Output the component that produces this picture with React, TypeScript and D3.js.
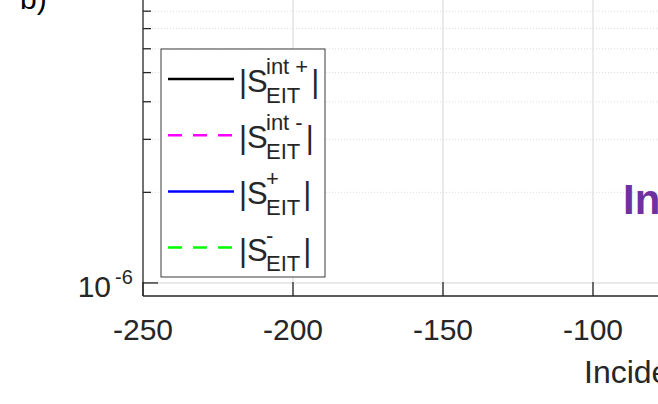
import { useEffect, useRef } from 'react'
import * as d3 from 'd3'

// axis limits and ticks
const xLimits = [-250, 0]
const xTicks = [-250, -200, -150, -100, -50, 0]
const yLimits = [9.05e-7, 1e-5]
const yMajorTicks = [1e-6, 1e-5]
const yMinorTicks = [2e-6, 3e-6, 4e-6, 5e-6, 6e-6, 7e-6, 8e-6, 9e-6]

// legend entries
const seriesSup = ['int +', 'int -', '+', '-']
const seriesColors = ['#000000', '#ff00ff', '#0000ff', '#00ff00']
const seriesDashed = [false, true, false, true]

const xLabel = 'Incident angle (deg)'
const annotation = 'In'
const panelLabel = 'b)'

const FONT = '"Liberation Sans", Arial, Helvetica, sans-serif'
const AXIS = '#262626'

function App() {
  const svgRef = useRef<SVGSVGElement>(null)

  useEffect(() => {
    if (!svgRef.current) return
    const width = 658
    const height = 404
    const left = 143
    const bottom = 296

    const svg = d3.select(svgRef.current)
    svg.selectAll('*').remove()
    svg.attr('width', width).attr('height', height)

    const x = d3.scaleLinear().domain(xLimits).range([left, left + 750])
    const y = d3.scaleLog().domain(yLimits).range([bottom, -18])
    const right = x(xLimits[1])
    const top = y(yLimits[1])

    // grid
    const grid = svg.append('g')
    grid
      .selectAll('.vgrid')
      .data(xTicks.filter((t) => t > xLimits[0]))
      .enter()
      .append('line')
      .attr('x1', (d) => x(d))
      .attr('x2', (d) => x(d))
      .attr('y1', top)
      .attr('y2', bottom)
      .attr('stroke', '#e3e3e3')
      .attr('stroke-width', 1.5)
    grid
      .selectAll('.hminor')
      .data(yMinorTicks)
      .enter()
      .append('line')
      .attr('x1', left)
      .attr('x2', right)
      .attr('y1', (d) => y(d))
      .attr('y2', (d) => y(d))
      .attr('stroke', '#dcdcdc')
      .attr('stroke-width', 1)
      .attr('stroke-dasharray', '1,2')
    grid
      .selectAll('.hmajor')
      .data(yMajorTicks)
      .enter()
      .append('line')
      .attr('x1', left)
      .attr('x2', right)
      .attr('y1', (d) => y(d))
      .attr('y2', (d) => y(d))
      .attr('stroke', '#e3e3e3')
      .attr('stroke-width', 1.5)

    // axes lines
    svg.append('line')
      .attr('x1', left).attr('x2', left).attr('y1', top).attr('y2', bottom)
      .attr('stroke', AXIS).attr('stroke-width', 1.3)
    svg.append('line')
      .attr('x1', left).attr('x2', right).attr('y1', bottom).attr('y2', bottom)
      .attr('stroke', AXIS).attr('stroke-width', 1.3)

    // x ticks (inward) and labels
    svg
      .selectAll('.xtick')
      .data(xTicks)
      .enter()
      .append('line')
      .attr('x1', (d) => x(d))
      .attr('x2', (d) => x(d))
      .attr('y1', bottom)
      .attr('y2', bottom - 14)
      .attr('stroke', AXIS)
      .attr('stroke-width', 1.3)
    svg
      .selectAll('.xlabel')
      .data(xTicks)
      .enter()
      .append('text')
      .attr('x', (d) => x(d))
      .attr('y', 340)
      .attr('text-anchor', 'middle')
      .attr('font-family', FONT)
      .attr('font-size', 30)
      .attr('fill', AXIS)
      .text((d) => String(d))

    // y ticks
    svg
      .selectAll('.ymajor')
      .data(yMajorTicks)
      .enter()
      .append('line')
      .attr('x1', left)
      .attr('x2', left + 15)
      .attr('y1', (d) => y(d))
      .attr('y2', (d) => y(d))
      .attr('stroke', AXIS)
      .attr('stroke-width', 1.3)
    svg
      .selectAll('.yminor')
      .data(yMinorTicks)
      .enter()
      .append('line')
      .attr('x1', left)
      .attr('x2', left + 8)
      .attr('y1', (d) => y(d))
      .attr('y2', (d) => y(d))
      .attr('stroke', AXIS)
      .attr('stroke-width', 1.3)

    const ylab = svg.selectAll('.ylab').data(yMajorTicks).enter().append('g')
    ylab
      .append('text')
      .attr('x', 111)
      .attr('y', (d) => y(d) + 14)
      .attr('text-anchor', 'end')
      .attr('font-family', FONT)
      .attr('font-size', 30)
      .attr('fill', AXIS)
      .text('10')
    ylab
      .append('text')
      .attr('x', 115)
      .attr('y', (d) => y(d) + 1)
      .attr('font-family', FONT)
      .attr('font-size', 20)
      .attr('fill', AXIS)
      .text((d) => String(Math.round(Math.log10(d))))

    // legend
    const lg = svg.append('g')
    lg.append('rect')
      .attr('x', 161).attr('y', 49).attr('width', 164).attr('height', 228)
      .attr('fill', '#ffffff').attr('stroke', AXIS).attr('stroke-width', 0.9)

    seriesSup.forEach((sup, i) => {
      const cy = 79 + i * 56.2
      lg.append('line')
        .attr('x1', 168).attr('x2', 234).attr('y1', cy).attr('y2', cy)
        .attr('stroke', seriesColors[i])
        .attr('stroke-width', 2.5)
        .attr('stroke-dasharray', seriesDashed[i] ? '14,11' : null)
      lg.append('text')
        .attr('x', 239).attr('y', cy + 13)
        .attr('font-family', FONT).attr('font-size', 31).attr('fill', AXIS)
        .text('|S')
      const supT = lg.append('text')
        .attr('x', 266).attr('y', cy - 5)
        .attr('font-family', FONT).attr('font-size', 22).attr('fill', AXIS)
        .style('white-space', 'pre')
        .text(sup)
      const subT = lg.append('text')
        .attr('x', 266).attr('y', cy + 23.5)
        .attr('font-family', FONT).attr('font-size', 22).attr('fill', AXIS)
        .text('EIT')
      const w = Math.max(
        (supT.node() as SVGTextElement).getComputedTextLength(),
        (subT.node() as SVGTextElement).getComputedTextLength()
      )
      lg.append('text')
        .attr('x', 266 + w + 3).attr('y', cy + 13)
        .attr('font-family', FONT).attr('font-size', 31).attr('fill', AXIS)
        .text('|')
    })

    // annotations
    svg.append('text')
      .attr('x', 623).attr('y', 214)
      .attr('font-family', FONT).attr('font-size', 42).attr('font-weight', 'bold')
      .attr('fill', '#7030a0')
      .text(annotation)
    svg.append('text')
      .attr('x', 584).attr('y', 383)
      .attr('font-family', FONT).attr('font-size', 32).attr('fill', AXIS)
      .text(xLabel)
    svg.append('text')
      .attr('x', 20).attr('y', 9)
      .attr('font-family', FONT).attr('font-size', 30).attr('fill', '#000000')
      .text(panelLabel)
  }, [])

  return (
    <div style={{ position: 'absolute', left: 0, top: 0, width: 658, height: 404, overflow: 'hidden', background: '#fff' }}>
      <svg ref={svgRef} style={{ display: 'block' }}></svg>
    </div>
  )
}

export default App
